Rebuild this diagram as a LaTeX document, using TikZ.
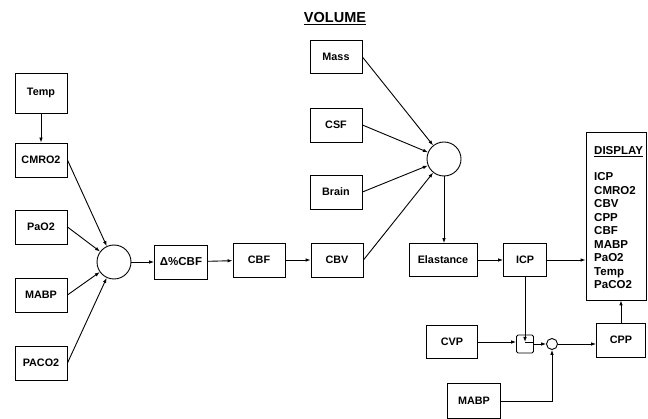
\documentclass[tikz,border=0pt]{standalone}
\usepackage{fontspec}
\setmainfont{Liberation Sans}
\usetikzlibrary{arrows.meta,calc}
\begin{document}
\begin{tikzpicture}[x=1pt,y=-1pt,
  box/.style={draw,line width=0.9pt,minimum width=52pt,minimum height=34pt,inner sep=0pt,font=\fontsize{10.8}{12}\selectfont\bfseries},
  sumc/.style={draw,circle,line width=0.9pt,minimum size=34pt,inner sep=0pt},
  arr/.style={line width=0.9pt,-{Latex[length=5pt,width=3.6pt]}},
  ln/.style={line width=0.9pt},
  dtxt/.style={anchor=base west,inner sep=0pt,font=\fontsize{11.5}{13.5}\selectfont\bfseries}]
\useasboundingbox (0,0) rectangle (648,419);
\node[font=\fontsize{14.5}{16}\selectfont\bfseries] (vol) at (335,19) {\underline{VOLUME}};
% left column
\node[box,minimum height=40pt] (temp) at (41,93) {Temp};
\node[box] (cmro) at (41,160) {CMRO2};
\node[box] (pao) at (41,227) {PaO2};
\node[box] (mabpa) at (41,295) {MABP};
\node[box] (paco) at (41,363) {PACO2};
\node[sumc] (c1) at (114,262) {};
\node[box,minimum width=53pt,font=\fontsize{11.5}{12}\selectfont\bfseries] (dcbf) at (181,262) {Δ\%CBF};
\node[box] (cbf) at (259,260) {CBF};
\node[box] (cbv) at (337,260) {CBV};
% volume
\node[box,minimum height=33pt] (mass) at (336,57) {Mass};
\node[box] (csf) at (336,125) {CSF};
\node[box] (brain) at (336,192) {Brain};
\node[sumc] (c2) at (444,159) {};
\node[box,minimum width=68pt,minimum height=33pt] (elas) at (443,260) {Elastance};
\node[box,minimum width=43pt,minimum height=33pt] (icp) at (525,260) {ICP};
% display
\node[draw,line width=0.9pt,minimum width=60pt,minimum height=168pt,inner sep=0pt] (disp) at (616,216) {};
\node[dtxt] (dhead) at (594,155) {\underline{DISPLAY}};
\foreach \t [count=\i from 0] in {ICP,CMRO2,CBV,CPP,CBF,MABP,PaO2,Temp,PaCO2}
  \node[dtxt] (d\i) at (594,181+13.5*\i) {\t};
% bottom
\node[box,minimum width=49pt] (cpp) at (621,340) {CPP};
\node[box,minimum width=51pt,minimum height=33pt] (cvp) at (452,342) {CVP};
\node[draw,line width=0.9pt,minimum width=17pt,minimum height=18pt,inner sep=0pt,rounded corners=1.5pt] (sq) at (525,344) {};
\node[draw,circle,line width=0.9pt,minimum size=11pt,inner sep=0pt] (sc) at (552,344) {};
\node[box,minimum width=53pt,minimum height=35pt] (mabpb) at (474,401) {MABP};
\coordinate (sqin) at (525,342);
% connectors
\draw[arr] (temp) -- (cmro);
\draw[arr] (cmro.east) -- (c1);
\draw[arr] (pao.east) -- (c1);
\draw[arr] (mabpa.east) -- (c1);
\draw[arr] (paco.east) -- (c1);
\draw[arr] (c1) -- (dcbf);
\draw[arr] (dcbf) -- (cbf);
\draw[arr] (cbf) -- (cbv);
\draw[arr] (cbv.east) -- (c2);
\draw[arr] (mass.east) -- (c2);
\draw[arr] (csf.east) -- (c2);
\draw[arr] (brain.east) -- (c2);
\draw[arr] (c2.south) -- (elas.north -| c2.south);
\draw[arr] (elas) -- (icp);
\draw[arr] (icp) -- (icp -| disp.west);
\draw[arr] (icp.south) -- (sqin);
\draw[ln] (sqin) -- (sqin -| sq.east);
\draw[arr] (cvp.east) -- (cvp.east -| sq.west);
\draw[arr] (sq.east) -- (sc.west);
\draw[arr] (mabpb.east) -| (sc.south);
\draw[arr] (sc.east) -- (cpp.west |- sc.east);
\draw[arr] (cpp.north) -- (cpp.north |- disp.south);
\end{tikzpicture}
\end{document}
